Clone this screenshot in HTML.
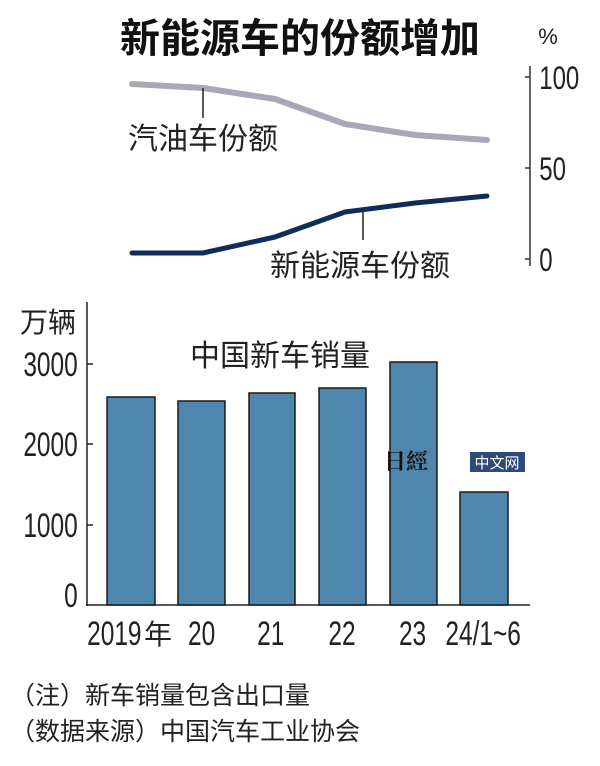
<!DOCTYPE html>
<html><head><meta charset="utf-8"><style>
body{margin:0;background:#fff;}
svg text{font-family:"Liberation Sans","Noto Sans CJK SC",sans-serif;}
</style></head><body>
<svg width="600" height="761" viewBox="0 0 600 761" xmlns="http://www.w3.org/2000/svg">
<rect width="600" height="761" fill="#fff"/>
<text x="300" y="52" font-size="40" font-weight="bold" text-anchor="middle" fill="#111" style="font-family:'Noto Sans CJK SC',sans-serif">新能源车的份额增加</text>
<text x="548" y="44" font-size="22" text-anchor="middle" fill="#222">%</text>
<line x1="530" y1="66" x2="530" y2="266" stroke="#333" stroke-width="1.5"/>
<line x1="525" y1="77" x2="530" y2="77" stroke="#333" stroke-width="1.5"/>
<line x1="525" y1="168" x2="530" y2="168" stroke="#333" stroke-width="1.5"/>
<line x1="525" y1="259" x2="530" y2="259" stroke="#333" stroke-width="1.5"/>
<g font-size="32" fill="#222" transform="scale(0.75,1)">
<text x="719" y="89">100</text>
<text x="719" y="180">50</text>
<text x="719" y="271">0</text>
</g>
<polyline points="132,84 203,88 275,99 345,124 415,135 487,140" fill="none" stroke="#a9a7b8" stroke-width="6" stroke-linecap="round" stroke-linejoin="round"/>
<polyline points="132,253 203,253 275,237 345,212 415,203 487,196" fill="none" stroke="#0f2d59" stroke-width="5" stroke-linecap="round" stroke-linejoin="round"/>
<line x1="203" y1="88" x2="203" y2="118" stroke="#222" stroke-width="1.5"/>
<line x1="363" y1="209" x2="363" y2="240" stroke="#222" stroke-width="1.5"/>
<text x="128" y="149" font-size="30" fill="#222">汽油车份额</text>
<text x="270" y="276" font-size="30" fill="#222">新能源车份额</text>
<text x="20" y="332" font-size="28" fill="#222">万辆</text>
<text x="190" y="366" font-size="30" fill="#222">中国新车销量</text>
<line x1="87" y1="302" x2="87" y2="606" stroke="#222" stroke-width="1.5"/>
<line x1="86" y1="605" x2="530" y2="605" stroke="#222" stroke-width="1.5"/>
<g stroke="#222" stroke-width="1.5">
<line x1="87" y1="364" x2="93" y2="364"/><line x1="87" y1="444" x2="93" y2="444"/><line x1="87" y1="525" x2="93" y2="525"/>
</g>
<g font-size="34" fill="#222" text-anchor="end" transform="scale(0.72,1)">
<text x="108" y="376">3000</text>
<text x="108" y="456">2000</text>
<text x="108" y="537">1000</text>
<text x="108" y="607">0</text>
</g>
<g fill="#4f86ad" stroke="#1a1a1a" stroke-width="1.5">
<rect x="107" y="397" width="48" height="208"/>
<rect x="178" y="401" width="47" height="204"/>
<rect x="249" y="393" width="46" height="212"/>
<rect x="319" y="388" width="47" height="217"/>
<rect x="390" y="362" width="47" height="243"/>
<rect x="460" y="492" width="48" height="113"/>
</g>
<g font-size="34" fill="#222" transform="scale(0.72,1)">
<text x="121" y="645">2019</text>
<text text-anchor="middle" x="280" y="645">20</text>
<text text-anchor="middle" x="376" y="645">21</text>
<text text-anchor="middle" x="475" y="645">22</text>
<text text-anchor="middle" x="573" y="645">23</text>
<text text-anchor="middle" x="671" y="645">24/1~6</text>
</g>
<text x="144" y="644" font-size="28" fill="#222">年</text>
<text x="384" y="469" font-size="22" font-weight="bold" fill="#111" style="font-family:'Noto Serif CJK SC',serif">日經</text>
<rect x="470" y="452" width="55" height="20" fill="#2c4a7a"/>
<text x="497" y="468" font-size="15" fill="#fff" text-anchor="middle">中文网</text>
<text x="10" y="704" font-size="25" fill="#222">（注）新车销量包含出口量</text>
<text x="10" y="740" font-size="25" fill="#222">（数据来源）中国汽车工业协会</text>
</svg>
</body></html>
